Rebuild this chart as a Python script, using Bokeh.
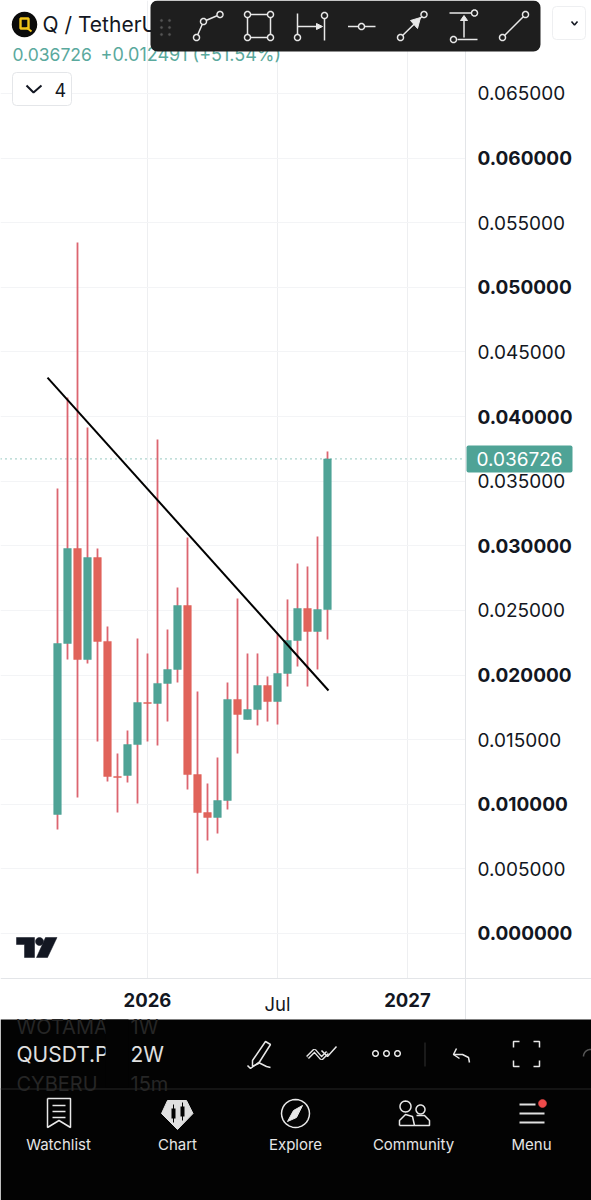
import math
from bokeh.embed import file_html
from bokeh.resources import INLINE
from bokeh.plotting import figure
from bokeh.models import (BoxAnnotation, ColumnDataSource, FixedTicker, Label, LinearAxis, NumeralTickFormatter,
                          PolyAnnotation, Span)

# ---------- data ----------
periods = list(range(28))
opens = [.00921, .02244, .02979, .02120, .02909, .02260, .01215, .01223, .01462, .01787, .01780, .01935,
         .02043, .02538, .01230, .00936, .00898, .01029, .01811, .01656, .01733, .01919, .01795, .02012,
         .02267, .02515, .02337, .02507]
closes = [.02244, .02979, .02120, .02909, .02260, .01215, .01207, .01462, .01787, .01780, .01935, .02043,
          .02538, .01230, .00936, .00898, .01029, .01811, .01695, .01733, .01919, .01795, .02012, .02267,
          .02515, .02337, .02507, .036726]
highs = [.03443, .04148, .05347, .03915, .02979, .02376, .01393, .01571, .02283, .02167, .03823, .02352,
         .02677, .03064, .01873, .01161, .01362, .01942, .02592, .02167, .02167, .01989, .02321, .02585,
         .02863, .02840, .03072, .03730]
lows = [.00805, .02120, .01052, .02089, .01486, .01176, .00936, .01168, .01006, .01486, .01455, .01640,
        .01942, .01114, .00464, .00720, .00774, .00960, .01393, .01656, .01610, .01640, .01617, .01911,
        .02066, .01911, .02043, .02275]
trend_x = [-1.0, 27.1]
trend_y = [.04302, .01880]
last_price = 0.036726
bold_ticks = [0.0, 0.01, 0.02, 0.03, 0.04, 0.05, 0.06]
plain_ticks = [0.005, 0.015, 0.025, 0.035, 0.045, 0.055, 0.065]
time_ticks = [9, 22, 35]
time_labels = ["2026", "Jul", "2027"]
legend_last = "0.036726"
legend_change = "+0.012491 (+51.54%)"
nav_labels = ["Watchlist", "Chart", "Explore", "Community", "Menu"]

GREEN = "#4fa396"
RED = "#e0635a"
WICK = "#dc6570"
FONT = "Inter"
INK = "#131722"
RULE = "#e3e5e8"

X_MIN, X_MAX = -5.7, 53.4
Y_MIN, Y_MAX = -0.020661, 0.072196
PRICE_AXIS_X = 40.8
TIME_AXIS_Y = -0.003482
PANEL_TOP_Y = -0.006655

p = figure(width=591, height=1200, output_backend="svg", toolbar_location=None,
           x_range=(X_MIN, X_MAX), y_range=(Y_MIN, Y_MAX),
           x_axis_location="below", y_axis_location="right",
           min_border_left=0, min_border_right=0, min_border_top=0, min_border_bottom=0,
           background_fill_color="white", border_fill_color="white", outline_line_color=None)

# grid
p.ygrid.ticker = FixedTicker(ticks=sorted(bold_ticks + plain_ticks))
p.xgrid.ticker = FixedTicker(ticks=time_ticks)
p.ygrid.grid_line_color = "#f3f4f6"
p.xgrid.grid_line_color = "#eeeff1"


def style_axis(ax, size, standoff, bold=False):
    ax.major_tick_line_color = None
    ax.minor_tick_line_color = None
    ax.major_label_standoff = standoff
    ax.major_label_text_font = FONT
    ax.major_label_text_font_size = size
    ax.major_label_text_color = INK
    ax.major_label_text_font_style = "bold" if bold else "normal"


# price axes (plain and bold share a position)
ya = p.yaxis[0]
ya.fixed_location = PRICE_AXIS_X
ya.ticker = FixedTicker(ticks=plain_ticks)
ya.formatter = NumeralTickFormatter(format="0.000000")
ya.bounds = (PANEL_TOP_Y, Y_MAX)
ya.axis_line_color = RULE
style_axis(ya, "19px", 6)
yb = LinearAxis(fixed_location=PRICE_AXIS_X, ticker=FixedTicker(ticks=bold_ticks),
                formatter=NumeralTickFormatter(format="0.000000"), axis_line_color=None)
style_axis(yb, "19px", 6, True)
p.add_layout(yb, "right")

# time axes
xa = p.xaxis[0]
xa.fixed_location = TIME_AXIS_Y
xa.ticker = FixedTicker(ticks=[time_ticks[1]])
xa.major_label_overrides = {time_ticks[1]: time_labels[1]}
xa.axis_line_color = RULE
style_axis(xa, "18.5px", 9)
xb = LinearAxis(fixed_location=TIME_AXIS_Y, ticker=FixedTicker(ticks=[time_ticks[0], time_ticks[2]]),
                major_label_overrides={time_ticks[0]: time_labels[0], time_ticks[2]: time_labels[2]},
                axis_line_color=None)
style_axis(xb, "18.5px", 9, True)
p.add_layout(xb, "below")

# the dotted last price line, then a white cover that stops grid and line at the price axis
p.add_layout(Span(location=last_price, dimension="width", line_color="#5aa99d", line_dash="1 4",
                  line_width=1.2, level="underlay"))
p.add_layout(BoxAnnotation(left=PRICE_AXIS_X, right=X_MAX, fill_color="white", fill_alpha=1, line_color=None,
                           level="glyph"))
p.add_layout(BoxAnnotation(top=TIME_AXIS_Y, fill_color="white", fill_alpha=1, line_color=None, level="glyph"))

# marks
body_colors = [GREEN if c >= o else RED for o, c in zip(opens, closes)]
src = ColumnDataSource(dict(x=periods, o=opens, c=closes, h=highs, l=lows, col=body_colors))
p.segment("x", "l", "x", "h", source=src, line_color=WICK, line_width=1.8)
p.vbar("x", 0.76, "o", "c", source=src, fill_color="col", line_color="col", line_width=0.5)
p.line(trend_x, trend_y, line_color="black", line_width=2)


# ---------- helpers for interface furniture, in page pixels ----------
def box(x0, y0, x1, y1, fill, line=None, radius=0, width=1):
    p.add_layout(BoxAnnotation(left=x0, right=x1, top=y0, bottom=y1,
                               left_units="canvas", right_units="canvas", top_units="canvas", bottom_units="canvas",
                               fill_color=fill, fill_alpha=1 if fill else 0, line_color=line, line_alpha=1,
                               line_width=width, border_radius=radius, level="overlay", editable=False))


def poly(pts, fill=None, line=None, width=1.5):
    p.add_layout(PolyAnnotation(xs=[a for a, _ in pts], ys=[b for _, b in pts],
                                xs_units="canvas", ys_units="canvas",
                                fill_color=fill, fill_alpha=1 if fill else 0,
                                line_color=line, line_alpha=1, line_width=width, level="overlay"))


def path(pts, color="#e8e8e8", width=1.5):
    poly(pts + pts[::-1], None, color, width)


def ring(cx, cy, r, fill=None, line="#e8e8e8", width=1.5, a0=0, a1=360):
    pts = [(cx + r * math.cos(math.radians(a0 + (a1 - a0) * i / 28)),
            cy + r * math.sin(math.radians(a0 + (a1 - a0) * i / 28))) for i in range(29)]
    if a1 - a0 >= 360:
        poly(pts, fill, line, width)
    else:
        path(pts, line, width)


def text(x, y, s, color=INK, size=18, style="normal", align="left"):
    p.add_layout(Label(x=x, y=y, x_units="canvas", y_units="canvas", text=s, text_color=color,
                       text_font=FONT, text_font_size=f"{size}px", text_font_style=style,
                       text_align=align, text_baseline="middle", level="overlay"))


# last price tag
box(466, 445, 572, 472, GREEN, radius=2)
p.add_layout(Label(x=519, y=last_price, x_units="canvas", y_units="data", text=legend_last, text_color="white",
                   text_font=FONT, text_font_size="19px", text_align="center", text_baseline="middle", level="overlay"))

# logo
ring(24, 24, 12, "#0b0b0b", "#0b0b0b")
poly([(20, 18), (28, 18), (28, 28), (20, 28)], None, "#f0c419", 2.4)
path([(26, 27), (31, 31)], "#f0c419", 2.2)
text(42, 24, "Q / TetherU", INK, 21)

# legend
text(12, 54, legend_last, "#5aa99d", 17.5)
text(100, 54, legend_change, "#5aa99d", 18)

# collapse button
box(12, 72, 71, 105, "white", "#e4e6e9", 4)
path([(26, 85), (33, 92), (41, 85)], INK, 2)
text(54, 89, "4", INK, 18)

# top right selector
box(552, 6, 585, 39, "white", "#eeeff1", 4)
path([(571, 21), (574, 24.5), (577, 21)], INK, 1.6)

# drawing toolbar
box(150, 0, 540, 51, "#1e1e1e", None, 7)
for gx in (161, 169):
    for gy in (20, 27, 34):
        ring(gx, gy, 1.2, "#555555", "#555555", 0.5)
W = "#e8e8e8"
path([(196, 37), (203, 21), (219.5, 14)], W)
for c in [(196, 37), (203, 21), (219.5, 14)]:
    ring(c[0], c[1], 3, "#1e1e1e", W)
path([(247, 14), (270, 14), (270, 37), (247, 37), (247, 14)], W)
for c in [(247, 14), (270, 14), (247, 37), (270, 37)]:
    ring(c[0], c[1], 3, "#1e1e1e", W)
path([(297, 13), (297, 37)], W)
path([(324, 15), (324, 40)], W)
path([(297, 26), (320, 26)], W)
poly([(316, 23), (322, 26), (316, 29)], W, W, 1)
ring(297, 37, 3, "#1e1e1e", W)
ring(324, 15, 3, "#1e1e1e", W)
path([(347.5, 26), (375, 26)], W)
ring(361, 26, 3, "#1e1e1e", W)
path([(400, 37), (423.5, 14)], W)
poly([(410, 20), (420, 17), (417, 28)], W, W, 1)
ring(400, 37, 3, "#1e1e1e", W)
ring(423.5, 14, 3, "#1e1e1e", W)
path([(449, 12.5), (471, 12.5)], W)
path([(457, 39), (477, 39)], W)
path([(463.5, 16), (463.5, 37)], W)
poly([(460, 20), (463.5, 15), (467, 20)], W, W, 1)
ring(474, 12.5, 3, "#1e1e1e", W)
ring(453, 39, 3, "#1e1e1e", W)
path([(502, 37), (525, 14)], W)
ring(502, 37, 3, "#1e1e1e", W)
ring(525, 14, 3, "#1e1e1e", W)

# TradingView mark
poly([(16, 937), (34, 937), (34, 957), (24, 957), (24, 944), (16, 944)], INK, INK, 0.5)
ring(39, 941, 4, INK, INK, 0.5)
poly([(45, 937), (56.5, 937), (47, 957), (36, 957)], INK, INK, 0.5)

# bottom panel
box(0, 1019, 591, 1200, "#030303")
text(16, 1026, "WOTAMA", "#262626", 20)
text(130, 1026, "1W", "#262626", 20)
text(16, 1083, "CYBERU", "#262626", 20)
text(130, 1083, "15m", "#262626", 20)
text(16, 1054, "QUSDT.P", "#e0e0e0", 21)
box(105, 1019, 128, 1087, "#030303")
text(130, 1054, "2W", "#e0e0e0", 21)
box(0, 1088, 591, 1089, "#262626")

# panel toolbar
path([(247, 1065), (250, 1068), (258, 1062), (266, 1066), (270, 1067)], W)
poly([(252, 1060), (265, 1041), (270, 1044), (258, 1063), (252, 1066)], None, W, 1.5)
path([(307, 1057), (314, 1050), (321, 1058), (327, 1052)], W, 4)
path([(307, 1057), (314, 1050), (321, 1058), (327, 1052)], "#030303", 1.2)
path([(321, 1050), (327, 1056), (336, 1046)], W, 1.5)
for cx in (375, 386, 397):
    ring(cx, 1053, 2.8, None, W)
box(424, 1042, 425, 1066, "#333333")
path([(456, 1048), (453, 1054), (459, 1058)], W)
path([(453, 1054), (462, 1054), (468, 1057), (469, 1062)], W)
for a, b, c in [((513, 1047), (513, 1041), (519, 1041)), ((533, 1041), (539, 1041), (539, 1047)),
                ((513, 1060), (513, 1066), (519, 1066)), ((533, 1066), (539, 1066), (539, 1060))]:
    path([a, b, c], W)
ring(590, 1056, 7, None, "#555555", 1.5, 180, 280)

# nav icons
path([(47, 1098), (70, 1098), (70, 1127), (58.5, 1120), (47, 1127), (47, 1098)], W)
for yy in (1105, 1111, 1117):
    path([(52, yy), (65, yy)], W)
poly([(167, 1100), (186, 1100), (192.5, 1113), (177, 1129), (161, 1113)], "#e0e0e0", "#e0e0e0", 1)
box(171, 1108, 175, 1118, "#030303")
box(180, 1106, 184, 1116, "#030303")
box(172.5, 1104, 173.5, 1122, "#030303")
box(181.5, 1102, 182.5, 1120, "#030303")
ring(295, 1113, 14, None, W)
poly([(302, 1105), (296, 1117), (287, 1121), (293, 1110)], W, W, 1)
ring(405, 1106, 5.5, None, W)
ring(420, 1109, 4.5, None, W)
path([(399, 1125), (399, 1120), (405, 1114), (412, 1116), (414, 1125), (399, 1125)], W)
path([(416, 1115), (424, 1115), (429, 1120), (429, 1125), (414, 1125)], W)
box(519, 1103, 535, 1105, "#e0e0e0")
box(519, 1112, 544, 1114, "#e0e0e0")
box(519, 1121, 544, 1123, "#e0e0e0")
ring(542, 1103, 4, "#ef4b4b", "#ef4b4b", 0.5)
for cx, s in zip((58, 177, 295, 413, 531), nav_labels):
    text(cx, 1144, s, "#e6e6e6", 15, "normal", "center")

open("out.html", "w").write(file_html(p, INLINE))
